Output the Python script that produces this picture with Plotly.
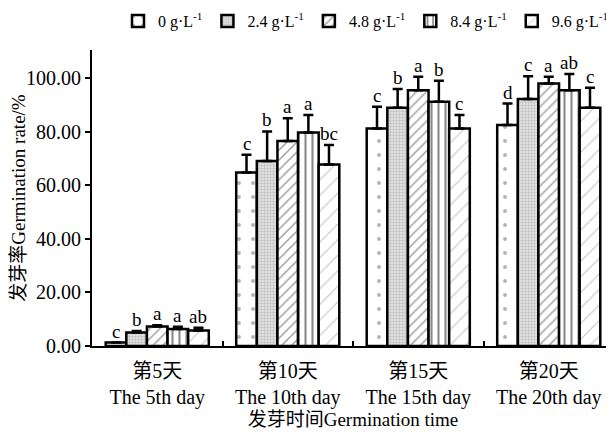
import plotly.graph_objects as go

categories = ["第5天<br>The 5th day", "第10天<br>The 10th day", "第15天<br>The 15th day", "第20天<br>The 20th day"]
series_names = ["0 g·L<sup>-1</sup>", "2.4 g·L<sup>-1</sup>", "4.8 g·L<sup>-1</sup>", "8.4 g·L<sup>-1</sup>", "9.6 g·L<sup>-1</sup>"]

v_0 = [1.3, 64.8, 81.2, 82.5]
v_24 = [5.0, 69.1, 88.9, 92.2]
v_48 = [7.3, 76.5, 95.5, 98.0]
v_84 = [6.3, 79.7, 91.2, 95.5]
v_96 = [5.8, 67.8, 81.2, 88.9]

e_0 = [0.0, 6.6, 8.1, 8.0]
e_24 = [0.6, 11.0, 7.0, 8.5]
e_48 = [0.4, 8.5, 5.0, 2.5]
e_84 = [0.9, 6.5, 7.8, 6.0]
e_96 = [1.0, 7.2, 5.0, 7.5]

l_0 = ["c", "c", "c", "d"]
l_24 = ["b", "b", "b", "c"]
l_48 = ["a", "a", "a", "a"]
l_84 = ["a", "a", "b", "ab"]
l_96 = ["ab", "bc", "c", "c"]

values = [v_0, v_24, v_48, v_84, v_96]
errors = [e_0, e_24, e_48, e_84, e_96]
letters = [l_0, l_24, l_48, l_84, l_96]

patterns = [
    dict(shape=".", size=14, solidity=0.06, fgcolor="#666666", bgcolor="white"),
    dict(shape=".", size=3, solidity=0.5, fgcolor="#9a9a9a", bgcolor="#e8e8e8"),
    dict(shape="/", size=7, solidity=0.22, fgcolor="#444444", bgcolor="white"),
    dict(shape="|", size=7, solidity=0.3, fgcolor="#111111", bgcolor="white"),
    dict(shape="/", size=11, solidity=0.1, fgcolor="#888888", bgcolor="white"),
]

font_fam = "Liberation Serif, Noto Sans CJK SC, serif"
fig = go.Figure()
for i in range(5):
    fig.add_trace(go.Bar(
        x=categories, y=values[i], name=series_names[i],
        marker=dict(color="white", line=dict(color="black", width=2.5), pattern=patterns[i]),
        error_y=dict(type="data", array=errors[i], arrayminus=[0]*4, symmetric=False,
                     color="black", thickness=2.5, width=5),
    ))

bargap = 0.21
bw = (1 - bargap) / 5
for i in range(5):
    for j in range(4):
        fig.add_annotation(
            x=j + (i - 2) * bw, y=values[i][j] + errors[i][j], text=letters[i][j],
            showarrow=False, yanchor="bottom", yshift=-1,
            font=dict(family=font_fam, size=19, color="black"),
        )

fig.update_layout(
    width=606, height=424,
    margin=dict(l=84, r=0, t=42, b=86, autoexpand=False),
    paper_bgcolor="white", plot_bgcolor="white",
    barmode="group", bargap=bargap, bargroupgap=0,
    font=dict(family=font_fam, size=17, color="black"),
    showlegend=True,
    legend=dict(orientation="h", x=1.0, xanchor="right", y=1.098, yanchor="middle",
                font=dict(family=font_fam, size=16, color="black"), itemwidth=30,
                tracegroupgap=0),
    xaxis=dict(
        type="category", range=[-0.5, 3.5],
        showline=True, linecolor="black", linewidth=2,
        ticks="inside", tickson="boundaries", ticklen=5, tickwidth=2, tickcolor="black",
        tickfont=dict(family=font_fam, size=20), ticklabelstandoff=6,
        title=dict(text="发芽时间Germination time", font=dict(family=font_fam, size=19), standoff=2),
        showgrid=False, zeroline=False, automargin=False,
    ),
    yaxis=dict(
        range=[0, 110.5], tickvals=[0, 20, 40, 60, 80, 100], tickformat=".2f",
        showline=True, linecolor="black", linewidth=2,
        ticks="outside", ticklen=5, tickwidth=2, tickcolor="black",
        tickfont=dict(family=font_fam, size=20),
        title=dict(text="发芽率Germination rate/%", font=dict(family=font_fam, size=19), standoff=2),
        showgrid=False, zeroline=False, automargin=False,
    ),
)

fig.write_html("out.html")
